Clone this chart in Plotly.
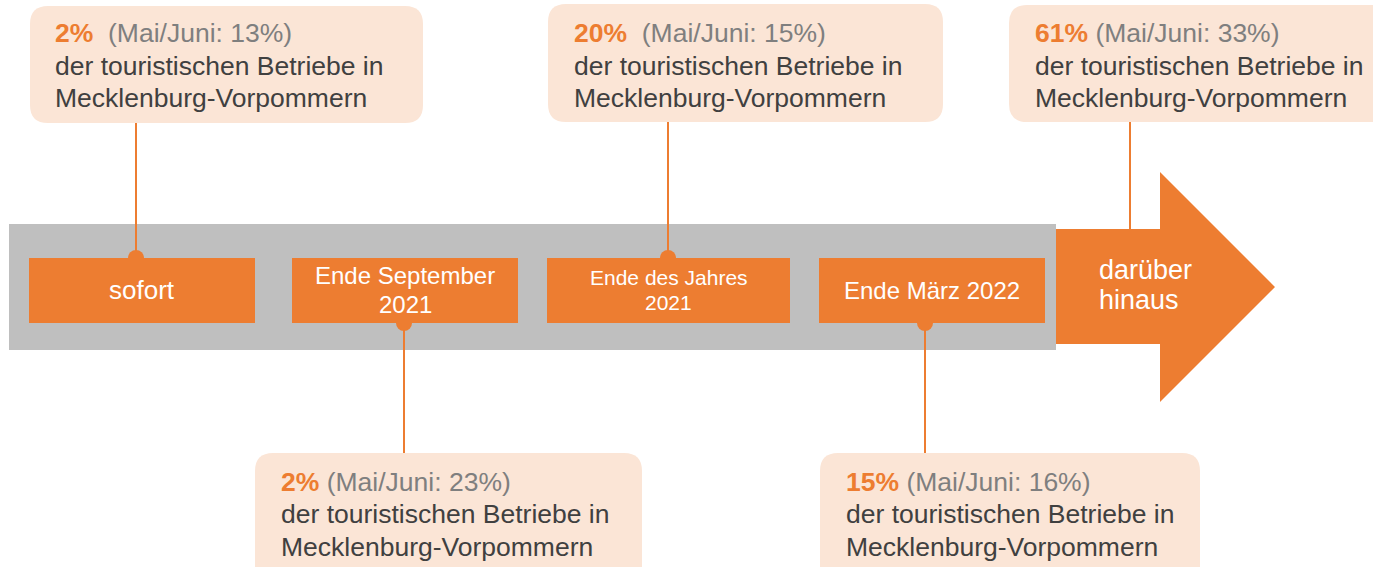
import plotly.graph_objects as go

# ---------------- data ----------------
stages = ["sofort", "Ende September<br>2021", "Ende des Jahres<br>2021", "Ende März 2022", "darüber<br>hinaus"]
share_now = [2, 2, 20, 15, 61]
share_mai_juni = [13, 23, 15, 16, 33]
body_line1 = "der touristischen Betriebe in"
body_line2 = "Mecklenburg-Vorpommern"

# ---------------- styles ----------------
ORANGE = "#ED7D31"
PEACH = "#FBE5D6"
GREY_BAND = "#BFBFBF"
GREY_TXT = "#7F7F7F"
DARK_TXT = "#404040"
FONT = "Liberation Sans, Arial, sans-serif"
W, H = 1373, 567

# ---------------- layout geometry (pixel space of the window) ----------------
band = dict(x0=9, y0=224, x1=1056, y1=350)
label_box_x = [(29, 255), (292, 518), (547, 790), (819, 1045)]
label_box_y = (258, 323)
label_font = [26, 24, 21, 24]
arrow_pts = [(1056, 229), (1160, 229), (1160, 172), (1275, 287), (1160, 402), (1160, 344), (1056, 344)]
arrow_text = dict(x=1098, y=285, size=27, spacing=30)

callouts = [
    dict(box=(30, 6, 423, 123), side="top", cx=136, tx=54, ty=65.5, gap="\u00a0\u00a0", end=258, dot=True),
    dict(box=(255, 453, 642, 590), side="bottom", cx=404, tx=280, ty=514, gap=" ", end=323, dot=True),
    dict(box=(548, 4, 943, 122), side="top", cx=668, tx=573, ty=65.5, gap="\u00a0\u00a0", end=258, dot=True),
    dict(box=(820, 453, 1200, 590), side="bottom", cx=925, tx=845, ty=514, gap=" ", end=323, dot=True),
    dict(box=(1009, 5, 1400, 122), side="top", cx=1130, tx=1034, ty=65.5, gap=" ", end=229, dot=False),
]
CALLOUT_FONT = 26.5
CALLOUT_SPACING = 32.5
RADIUS = 18
DOT_R = 8


def rrect(x0, y0, x1, y1, r):
    return (f"M{x0+r},{y0} L{x1-r},{y0} Q{x1},{y0} {x1},{y0+r} "
            f"L{x1},{y1-r} Q{x1},{y1} {x1-r},{y1} L{x0+r},{y1} "
            f"Q{x0},{y1} {x0},{y1-r} L{x0},{y0+r} Q{x0},{y0} {x0+r},{y0} Z")


def text_lines(lines, x, yc, spacing, anchor, size, color):
    out = []
    n = len(lines)
    for k, ln in enumerate(lines):
        y = yc + (k - (n - 1) / 2) * spacing
        out.append(dict(x=x, y=y, xref="x", yref="y", text=ln, showarrow=False,
                        xanchor=anchor, yanchor="middle", align=anchor,
                        borderpad=0, font=dict(family=FONT, size=size, color=color)))
    return out


shapes = []
shapes.append(dict(type="rect", xref="x", yref="y", **band, fillcolor=GREY_BAND, line=dict(width=0)))
path = "M" + " L".join(f"{x},{y}" for x, y in arrow_pts) + " Z"
shapes.append(dict(type="path", xref="x", yref="y", path=path, fillcolor=ORANGE, line=dict(width=0)))

for c in callouts:
    bx0, by0, bx1, by1 = c["box"]
    start = by1 if c["side"] == "top" else by0
    shapes.append(dict(type="line", xref="x", yref="y", x0=c["cx"], x1=c["cx"], y0=start, y1=c["end"],
                       line=dict(color=ORANGE, width=2)))
    if c["dot"]:
        shapes.append(dict(type="circle", xref="x", yref="y",
                           x0=c["cx"] - DOT_R, x1=c["cx"] + DOT_R,
                           y0=c["end"] - DOT_R, y1=c["end"] + DOT_R,
                           fillcolor=ORANGE, line=dict(width=0)))

for (x0, x1) in label_box_x:
    shapes.append(dict(type="rect", xref="x", yref="y", x0=x0, x1=x1, y0=label_box_y[0], y1=label_box_y[1],
                       fillcolor=ORANGE, line=dict(width=0)))

for c in callouts:
    bx0, by0, bx1, by1 = c["box"]
    shapes.append(dict(type="path", xref="x", yref="y", path=rrect(bx0, by0, bx1, by1, RADIUS),
                       fillcolor=PEACH, line=dict(width=0)))

annotations = []
for i, (x0, x1) in enumerate(label_box_x):
    size = label_font[i]
    annotations += text_lines(stages[i].split("<br>"), (x0 + x1) / 2, sum(label_box_y) / 2 - 0.5,
                              size * 1.2, "center", size, "white")
annotations += text_lines(stages[4].split("<br>"), arrow_text["x"], arrow_text["y"], arrow_text["spacing"],
                          "left", arrow_text["size"], "white")

for i, c in enumerate(callouts):
    head = (f"<b><span style='color:{ORANGE}'>{share_now[i]}%</span></b>{c['gap']}"
            f"<span style='color:{GREY_TXT}'>(Mai/Juni: {share_mai_juni[i]}%)</span>")
    annotations += text_lines([head, body_line1, body_line2], c["tx"], c["ty"], CALLOUT_SPACING,
                              "left", CALLOUT_FONT, DARK_TXT)

fig = go.Figure()
fig.update_layout(
    width=W, height=H,
    margin=dict(l=0, r=0, t=0, b=0),
    paper_bgcolor="white", plot_bgcolor="white",
    xaxis=dict(range=[0, W], visible=False, fixedrange=True),
    yaxis=dict(range=[H, 0], visible=False, fixedrange=True),
    shapes=shapes, annotations=annotations, showlegend=False,
)
fig.write_html(
    "out.html",
    config=dict(displayModeBar=False),
    post_script="document.body.style.margin='0';document.body.style.overflow='hidden';",
)
